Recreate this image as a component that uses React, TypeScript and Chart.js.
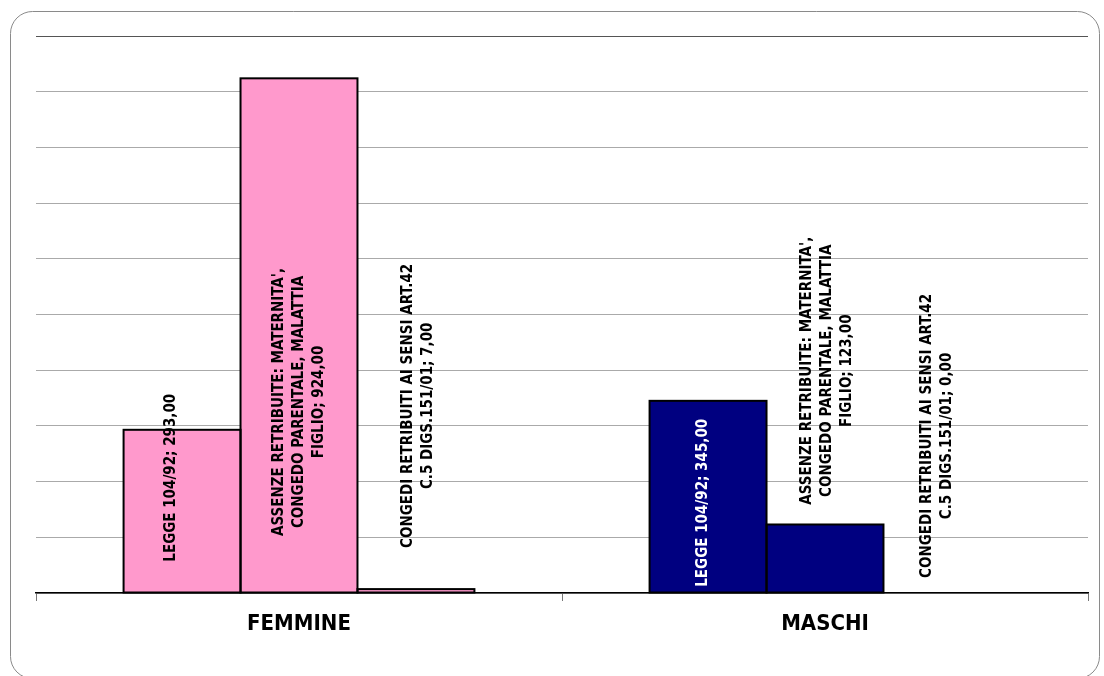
import React, { useEffect, useRef } from "react";
import { Chart, registerables } from "chart.js";

Chart.register(...registerables);

const categories = ["FEMMINE", "MASCHI"];
const seriesLines = [
  ["LEGGE 104/92"],
  ["ASSENZE RETRIBUITE: MATERNITA',", "CONGEDO PARENTALE, MALATTIA", "FIGLIO"],
  ["CONGEDI RETRIBUITI AI SENSI ART.42", "C.5 DIGS.151/01"],
];
const legge = [293, 345];
const assenze = [924, 123];
const congedi = [7, 0];
const categoryColors = ["#FF99CC", "#000080"];
const yMax = 1000;
const yStep = 100;

// label placement (value units along the axis, centre of the rotated text)
const labelCenters = [
  [207, 162],
  [343, 399],
  [336, 282],
];
// small sideways nudges of the labels, in pixels
const labelNudges = [
  [-11, -5],
  [0, 2],
  [2, -5],
];
const labelColors = [
  ["#000", "#fff"],
  ["#000", "#000"],
  ["#000", "#000"],
];

const fmt = (v: number) => v.toFixed(2).replace(".", ",");

const framePlugin = {
  id: "frame",
  beforeDraw(chart: any) {
    const ctx = chart.ctx;
    ctx.save();
    ctx.fillStyle = "#fff";
    ctx.fillRect(0, 0, chart.width, chart.height);
    ctx.strokeStyle = "#8a8a8a";
    ctx.lineWidth = 1;
    ctx.beginPath();
    (ctx as any).roundRect(10.5, 11.5, 1089, 667, 22);
    ctx.stroke();
    ctx.restore();
  },
};

const outlinePlugin = {
  id: "barOutlines",
  afterDatasetsDraw(chart: any) {
    const ctx = chart.ctx;
    ctx.save();
    ctx.strokeStyle = "#000";
    ctx.lineWidth = 2;
    chart.data.datasets.forEach((ds: any, i: number) => {
      const meta = chart.getDatasetMeta(i);
      meta.data.forEach((bar: any, j: number) => {
        if (!ds.data[j]) return;
        const p = bar.getProps(["x", "y", "base", "width"], true);
        ctx.strokeRect(p.x - p.width / 2, p.y, p.width, p.base - p.y);
      });
    });
    ctx.restore();
  },
};

const labelPlugin = {
  id: "barLabels",
  afterDatasetsDraw(chart: any) {
    const ctx = chart.ctx;
    const yScale = chart.scales.y;
    ctx.save();
    ctx.font = "bold 15px 'DejaVu Sans Condensed', 'DejaVu Sans'";
    ctx.textAlign = "center";
    ctx.textBaseline = "middle";
    chart.data.datasets.forEach((ds: any, i: number) => {
      const meta = chart.getDatasetMeta(i);
      meta.data.forEach((bar: any, j: number) => {
        const lines = seriesLines[i].slice();
        lines[lines.length - 1] = lines[lines.length - 1] + "; " + fmt(ds.data[j]);
        const cy = yScale.getPixelForValue(labelCenters[i][j]);
        const lh = 20;
        ctx.save();
        ctx.translate(bar.x + labelNudges[i][j], cy);
        ctx.rotate(-Math.PI / 2);
        ctx.fillStyle = labelColors[i][j];
        lines.forEach((ln: string, k: number) => {
          ctx.fillText(ln, 0, (k - (lines.length - 1) / 2) * lh);
        });
        ctx.restore();
      });
    });
    ctx.restore();
  },
};

export default function App() {
  const ref = useRef<HTMLCanvasElement>(null);
  useEffect(() => {
    document.body.style.margin = "0";
    const chart = new Chart(ref.current as HTMLCanvasElement, {
      type: "bar",
      data: {
        labels: categories,
        datasets: [legge, assenze, congedi].map((d, i) => ({
          label: seriesLines[i].join(" "),
          data: d,
          backgroundColor: categoryColors,
          borderWidth: 0,
          categoryPercentage: 0.667,
          barPercentage: 1,
        })),
      },
      options: {
        animation: false,
        responsive: false,
        layout: { padding: { left: 36, right: 16, top: 36, bottom: 0 } },
        plugins: { legend: { display: false }, tooltip: { enabled: false } },
        scales: {
          x: {
            grid: {
              display: true,
              drawOnChartArea: false,
              drawTicks: true,
              tickLength: 8,
              color: "#777",
              offset: true,
            },
            border: { display: true, color: "#000", width: 1.5 },
            ticks: {
              color: "#000",
              padding: 10,
              font: { family: "'DejaVu Sans Condensed', 'DejaVu Sans'", weight: "bold", size: 22 },
            },
            afterFit: (s: any) => {
              s.height = 83;
            },
          },
          y: {
            min: 0,
            max: yMax,
            ticks: { display: false, stepSize: yStep },
            grid: {
              drawTicks: false,
              color: (c: any) => (c.tick && c.tick.value === yMax ? "#555" : "#aaa"),
              lineWidth: 1,
            },
            border: { display: false },
            afterFit: (s: any) => {
              s.width = 0;
            },
          },
        },
      },
      plugins: [framePlugin, outlinePlugin, labelPlugin],
    } as any);
    return () => chart.destroy();
  }, []);
  return (
    <div style={{ position: "absolute", left: 0, top: 0, width: 1104, height: 676 }}>
      <canvas ref={ref} width={1104} height={676} />
    </div>
  );
}
